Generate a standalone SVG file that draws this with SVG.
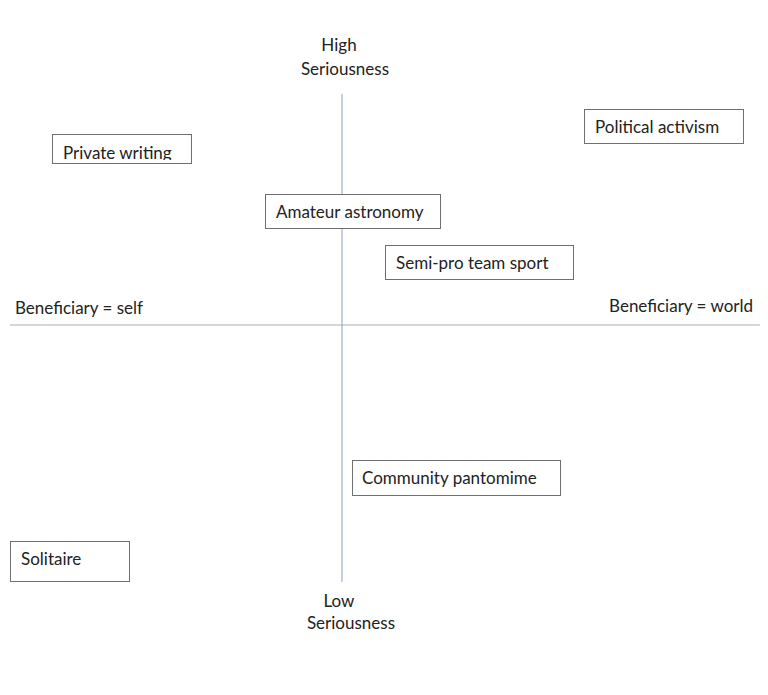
<svg xmlns="http://www.w3.org/2000/svg" width="768" height="695" viewBox="0 0 768 695">
<style>
text{font-family:Lato,"Open Sans","Liberation Sans",sans-serif;font-size:17px;fill:#222}
.box{fill:#fff;stroke:#6f6f6f;stroke-width:1}
.mid{text-anchor:middle}
</style>
<defs>
<clipPath id="pwclip"><rect x="52" y="134" width="140" height="26"/></clipPath>
</defs>
<rect width="768" height="695" fill="#fff"/>
<g id="axes">
<line x1="10" y1="325" x2="760" y2="325" stroke="#c3c9d6" stroke-width="1.5"/>
<line x1="342" y1="94" x2="342" y2="582" stroke="#8f9fc6" stroke-width="1"/>
</g>
<g id="labels">
<text class="mid" x="339" y="51">High</text>
<text class="mid" x="345" y="75">Seriousness</text>
<text class="mid" x="339" y="607">Low</text>
<text class="mid" x="351" y="629">Seriousness</text>
<text x="15" y="314">Beneficiary = self</text>
<text x="753" y="312" text-anchor="end">Beneficiary = world</text>
</g>
<g id="private-writing">
<rect class="box" x="52.5" y="134.5" width="139" height="29"/>
<text x="63" y="159" clip-path="url(#pwclip)">Private writing</text>
</g>
<g id="political-activism">
<rect class="box" x="584.5" y="109.5" width="159" height="34"/>
<text x="595" y="133">Political activism</text>
</g>
<g id="amateur-astronomy">
<rect class="box" x="265.5" y="194.5" width="175" height="34"/>
<text x="276" y="218">Amateur astronomy</text>
</g>
<g id="semi-pro-team-sport">
<rect class="box" x="385.5" y="245.5" width="188" height="34"/>
<text x="396" y="269">Semi-pro team sport</text>
</g>
<g id="community-pantomime">
<rect class="box" x="352.5" y="460.5" width="208" height="35"/>
<text x="362" y="484">Community pantomime</text>
</g>
<g id="solitaire">
<rect class="box" x="10.5" y="541.5" width="119" height="40"/>
<text x="21" y="565">Solitaire</text>
</g>
<g id="connectors"></g>
</svg>
